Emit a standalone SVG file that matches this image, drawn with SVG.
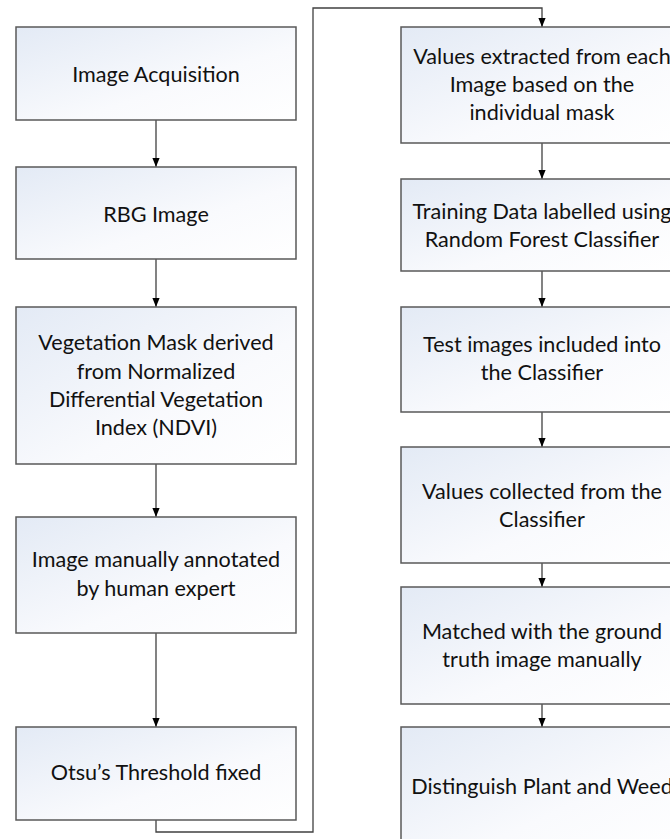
<svg xmlns="http://www.w3.org/2000/svg" width="670" height="839" viewBox="0 0 670 839">
<style>
.box{fill:url(#g);stroke:#595959;stroke-width:1.5}
.t{font-family:Lato,"Open Sans",sans-serif;font-size:21.6px;fill:#111;text-anchor:middle}
.c{fill:none;stroke:#404040;stroke-width:1.3}
</style>
<defs>
<linearGradient id="g" x1="0" y1="0" x2="1" y2="1">
<stop offset="0" stop-color="#e3eaf5"/>
<stop offset="0.6" stop-color="#f9fafd"/>
<stop offset="1" stop-color="#ffffff"/>
</linearGradient>
<marker id="a" markerWidth="9" markerHeight="11" refX="10" refY="4" orient="auto" markerUnits="userSpaceOnUse" viewBox="0 0 10 8">
<path d="M0,0 L10,4 L0,8 Z" fill="#000"/>
</marker>
</defs>
<rect width="670" height="839" fill="#fff"/>
<g id="connectors">
<line class="c" x1="156" y1="120" x2="156" y2="167" marker-end="url(#a)"/>
<line class="c" x1="156" y1="259" x2="156" y2="307" marker-end="url(#a)"/>
<line class="c" x1="156" y1="464" x2="156" y2="517" marker-end="url(#a)"/>
<line class="c" x1="156" y1="633" x2="156" y2="727" marker-end="url(#a)"/>
<polyline class="c" points="156,820 156,832 313,832 313,8 542,8 542,27" marker-end="url(#a)"/>
<line class="c" x1="542" y1="143" x2="542" y2="179" marker-end="url(#a)"/>
<line class="c" x1="542" y1="271" x2="542" y2="307" marker-end="url(#a)"/>
<line class="c" x1="542" y1="412" x2="542" y2="447" marker-end="url(#a)"/>
<line class="c" x1="542" y1="563" x2="542" y2="587" marker-end="url(#a)"/>
<line class="c" x1="542" y1="704" x2="542" y2="727" marker-end="url(#a)"/>
</g>
<g id="n1"><rect class="box" x="16" y="27" width="280" height="93"/><text class="t" x="156" y="82">Image Acquisition</text></g>
<g id="n2"><rect class="box" x="16" y="167" width="280" height="92"/><text class="t" x="156" y="222">RBG Image</text></g>
<g id="n3"><rect class="box" x="16" y="307" width="280" height="157"/><text class="t" x="156" y="350">Vegetation Mask derived</text><text class="t" x="156" y="379">from Normalized</text><text class="t" x="156" y="407">Differential Vegetation</text><text class="t" x="156" y="435">Index (NDVI)</text></g>
<g id="n4"><rect class="box" x="16" y="517" width="280" height="116"/><text class="t" x="156" y="567">Image manually annotated</text><text class="t" x="156" y="596">by human expert</text></g>
<g id="n5"><rect class="box" x="16" y="727" width="280" height="93"/><text class="t" x="156" y="780">Otsu’s Threshold fixed</text></g>
<g id="r1"><rect class="box" x="401" y="27" width="282" height="116"/><text class="t" x="542" y="64">Values extracted from each</text><text class="t" x="542" y="92">Image based on the</text><text class="t" x="542" y="120">individual mask</text></g>
<g id="r2"><rect class="box" x="401" y="179" width="282" height="92"/><text class="t" x="542" y="219">Training Data labelled using</text><text class="t" x="542" y="247">Random Forest Classifier</text></g>
<g id="r3"><rect class="box" x="401" y="307" width="282" height="105"/><text class="t" x="542" y="352">Test images included into</text><text class="t" x="542" y="380">the Classifier</text></g>
<g id="r4"><rect class="box" x="401" y="447" width="282" height="116"/><text class="t" x="542" y="499">Values collected from the</text><text class="t" x="542" y="527">Classifier</text></g>
<g id="r5"><rect class="box" x="401" y="587" width="282" height="117"/><text class="t" x="542" y="639">Matched with the ground</text><text class="t" x="542" y="667">truth image manually</text></g>
<g id="r6"><rect class="box" x="401" y="727" width="282" height="130"/><text class="t" x="542" y="794">Distinguish Plant and Weed</text></g>
</svg>
